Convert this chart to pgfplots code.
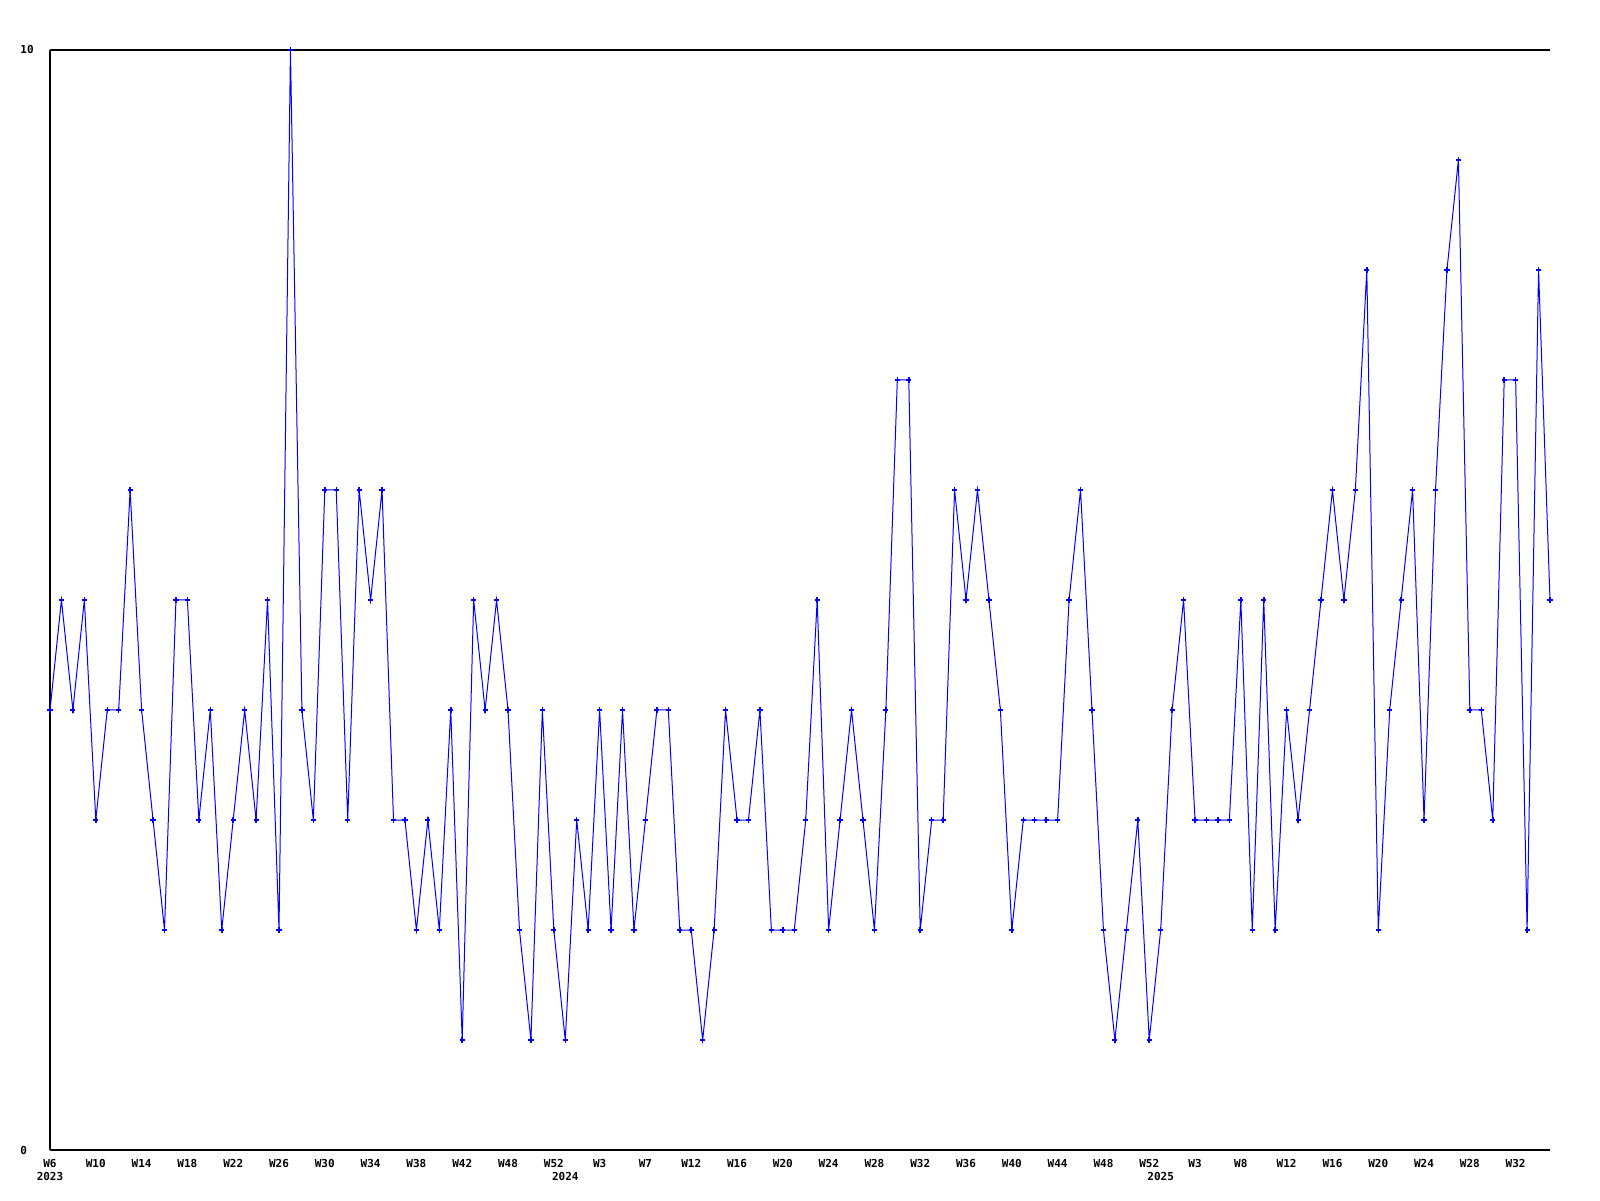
\documentclass[border=0pt]{standalone}
\usepackage{fontspec}
\setmainfont{DejaVu Sans Mono}
\usepackage{pgfplots}
\pgfplotsset{compat=1.18}
\definecolor{lineblue}{RGB}{0,0,255}

\begin{document}
\begin{tikzpicture}
  \begin{axis}[
    scale only axis,
    width=750pt, height=550pt,
    xmin=0, xmax=131, ymin=0, ymax=10,
    axis x line=box, axis y line=left,
    axis line style={-, line width=0.65pt, black},
    major tick length=0pt,
    ytick={0,10}, yticklabels={0,10},
    xtick={0,4,...,128},
    xticklabels={W6,W10,W14,W18,W22,W26,W30,W34,W38,W42,W48,W52,
                 W3,W7,W12,W16,W20,W24,W28,W32,W36,W40,W44,W48,W52,
                 W3,W8,W12,W16,W20,W24,W28,W32},
    extra x ticks={0,45,97},
    extra x tick labels={2023,2024,2025},
    extra x tick style={xticklabel style={yshift=-6.5pt}},
    ticklabel style={font=\fontsize{5.5}{6}\selectfont\bfseries, inner sep=0pt},
    xticklabel style={anchor=north, yshift=-4.5pt},
    yticklabel style={anchor=west, xshift=-15pt},
    clip=false,
  ]
    \addplot[lineblue, line width=0.5pt, mark=+, mark size=1.3pt,
             mark options={line width=0.75pt}] coordinates {
      (0,4) (1,5) (2,4) (3,5) (4,3) (5,4) (6,4) (7,6) (8,4) (9,3)
      (10,2) (11,5) (12,5) (13,3) (14,4) (15,2) (16,3) (17,4) (18,3) (19,5)
      (20,2) (21,10) (22,4) (23,3) (24,6) (25,6) (26,3) (27,6) (28,5) (29,6)
      (30,3) (31,3) (32,2) (33,3) (34,2) (35,4) (36,1) (37,5) (38,4) (39,5)
      (40,4) (41,2) (42,1) (43,4) (44,2) (45,1) (46,3) (47,2) (48,4) (49,2)
      (50,4) (51,2) (52,3) (53,4) (54,4) (55,2) (56,2) (57,1) (58,2) (59,4)
      (60,3) (61,3) (62,4) (63,2) (64,2) (65,2) (66,3) (67,5) (68,2) (69,3)
      (70,4) (71,3) (72,2) (73,4) (74,7) (75,7) (76,2) (77,3) (78,3) (79,6)
      (80,5) (81,6) (82,5) (83,4) (84,2) (85,3) (86,3) (87,3) (88,3) (89,5)
      (90,6) (91,4) (92,2) (93,1) (94,2) (95,3) (96,1) (97,2) (98,4) (99,5)
      (100,3) (101,3) (102,3) (103,3) (104,5) (105,2) (106,5) (107,2) (108,4) (109,3)
      (110,4) (111,5) (112,6) (113,5) (114,6) (115,8) (116,2) (117,4) (118,5) (119,6)
      (120,3) (121,6) (122,8) (123,9) (124,4) (125,4) (126,3) (127,7) (128,7) (129,2)
      (130,8) (131,5)
    };
  \end{axis}
  \pgfresetboundingbox
  \useasboundingbox ([shift={(-25pt,-25pt)}]current axis.south west)
    rectangle ([shift={(25pt,25pt)}]current axis.north east);
\end{tikzpicture}
\end{document}
